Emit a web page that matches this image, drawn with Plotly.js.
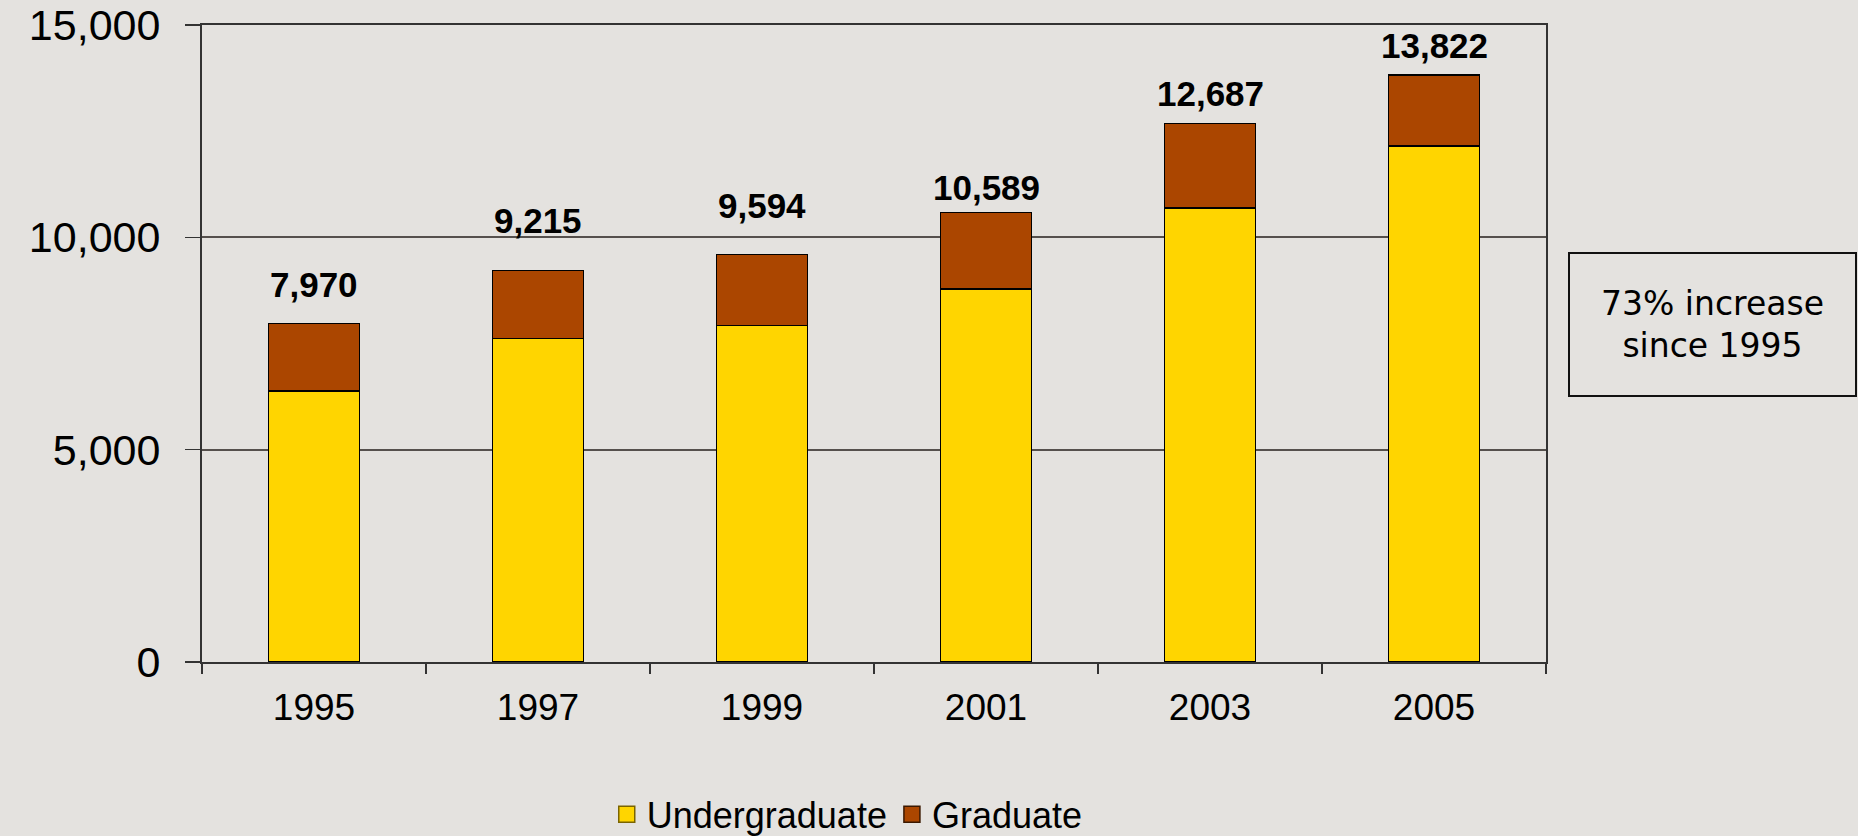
<!DOCTYPE html>
<html>
<head>
<meta charset="utf-8">
<script src="https://cdn.plot.ly/plotly-3.0.1.min.js"></script>
<style>
html,body{margin:0;padding:0;background:#e4e2df;}
#chart{width:1858px;height:836px;}
</style>
</head>
<body>
<div id="chart"></div>
<script>
const years = ['1995', '1997', '1999', '2001', '2003', '2005'];
const undergraduate = [6381, 7622, 7919, 8783, 10691, 12151];
const graduate = [1589, 1593, 1675, 1806, 1996, 1671];
const totals = [7970, 9215, 9594, 10589, 12687, 13822];
const yTicks = [0, 5000, 10000, 15000];
const yTickLabels = ['0', '5,000', '10,000', '15,000'];
const noteText = '73% increase<br>since 1995';

// styling: pixel offset of each total label above its bar (as placed in the original)
const labelOffsetsPx = [39, 50, 49, 25, 30, 30];

const baseFont = 'Liberation Sans, Arial, sans-serif';
const colUG = '#FFD500';
const colG = '#AB4600';

const traces = [
  {
    type: 'bar', name: 'Undergraduate', x: years, y: undergraduate,
    marker: {color: colUG, line: {color: '#000000', width: 1.2}},
    hoverinfo: 'skip', showlegend: false
  },
  {
    type: 'bar', name: 'Graduate', x: years, y: graduate,
    marker: {color: colG, line: {color: '#000000', width: 1.2}},
    hoverinfo: 'skip', showlegend: false
  },
  // legend entries (larger square swatches)
  {
    type: 'scatter', mode: 'markers', name: 'Undergraduate', x: [null], y: [null],
    marker: {symbol: 'square', size: 22, color: colUG, line: {color: '#7a6400', width: 1.5}},
    hoverinfo: 'skip'
  },
  {
    type: 'scatter', mode: 'markers', name: 'Graduate', x: [null], y: [null],
    marker: {symbol: 'square', size: 22, color: colG, line: {color: '#3a1800', width: 1.5}},
    hoverinfo: 'skip'
  }
];

// category axis: annotations use the category index
const annotations = years.map((yr, i) => ({
  x: i, y: totals[i], xref: 'x', yref: 'y',
  text: totals[i].toLocaleString('en-US'),
  showarrow: false, yanchor: 'middle', yshift: labelOffsetsPx[i],
  font: {family: baseFont, size: 35, color: '#000000', weight: 'bold'}
}));

annotations.push({
  xref: 'paper', yref: 'paper', x: 1.1239, y: 0.5298,
  xanchor: 'center', yanchor: 'middle',
  text: noteText, showarrow: false, align: 'center',
  width: 283, height: 139, borderpad: 1,
  bordercolor: '#111111', borderwidth: 2,
  font: {family: 'DejaVu Sans, Verdana, sans-serif', size: 33, color: '#000000'}
});

const layout = {
  width: 1858, height: 836,
  paper_bgcolor: '#e4e2df', plot_bgcolor: 'rgba(0,0,0,0)',
  margin: {l: 202, r: 312, t: 25, b: 174, pad: 0},
  barmode: 'stack', bargap: 0.594,
  showlegend: true,
  legend: {
    orientation: 'h', xref: 'container', yref: 'container',
    x: 0.456, y: 0.026, xanchor: 'center', yanchor: 'middle',
    font: {family: baseFont, size: 36, color: '#000000'},
    bgcolor: 'rgba(0,0,0,0)', traceorder: 'normal', itemwidth: 30,
    itemsizing: 'trace'
  },
  xaxis: {
    type: 'category', tickson: 'boundaries', ticks: 'outside', ticklen: 10,
    tickcolor: '#333333', tickwidth: 1.5,
    showline: true, linecolor: '#333333', linewidth: 2, mirror: true,
    showgrid: false, zeroline: false, tickangle: 0,
    range: [-0.5, years.length - 0.5],
    tickfont: {family: baseFont, size: 37, color: '#000000'},
    ticklabelstandoff: 12
  },
  yaxis: {
    range: [0, 15000], tickvals: yTicks, ticktext: yTickLabels,
    ticks: 'outside', ticklen: 15, tickcolor: '#333333', tickwidth: 1.5,
    showline: true, linecolor: '#333333', linewidth: 2, mirror: true,
    showgrid: true, gridcolor: '#55504d', gridwidth: 2, zeroline: false,
    tickfont: {family: baseFont, size: 43, color: '#000000'},
    ticklabelstandoff: 16
  },
  annotations: annotations
};

Plotly.newPlot('chart', traces, layout, {displayModeBar: false, staticPlot: true});
</script>
</body>
</html>
